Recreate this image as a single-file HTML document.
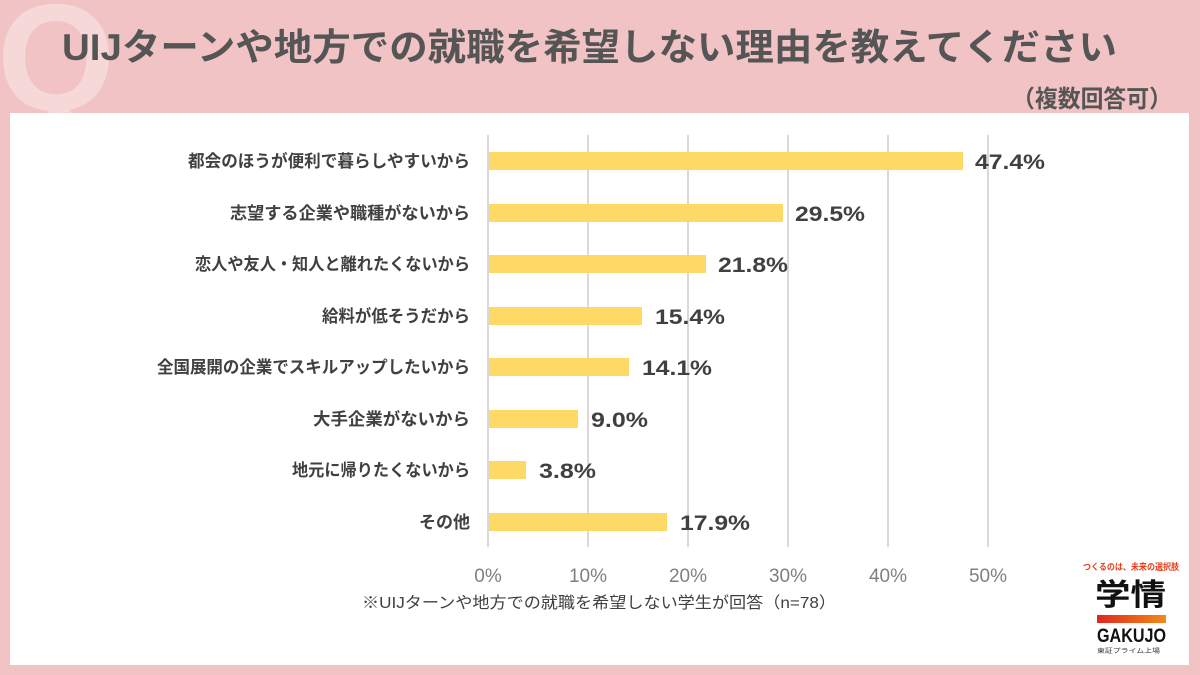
<!DOCTYPE html>
<html><head><meta charset="utf-8"><style>
html,body{margin:0;padding:0;width:1200px;height:675px;overflow:hidden;background:#f2c3c4;}
svg{display:block;}
text{font-family:"Liberation Sans","Noto Sans CJK JP",sans-serif;}
</style></head><body>
<svg width="1200" height="675" viewBox="0 0 1200 675" xmlns="http://www.w3.org/2000/svg">
<defs>
<linearGradient id="g" x1="0" x2="1" y1="0" y2="0"><stop offset="0" stop-color="#e0261f"/><stop offset="1" stop-color="#f28a18"/></linearGradient>
</defs>
<rect x="0" y="0" width="1200" height="675" fill="#f2c3c4"/>
<text x="56" y="110" font-size="152" font-weight="bold" fill="#f6d8d9" text-anchor="middle" style="font-family:'Liberation Sans',sans-serif">Q</text>
<text x="62" y="60" font-size="37" font-weight="bold" fill="#555555" textLength="1055" lengthAdjust="spacingAndGlyphs">UIJターンや地方での就職を希望しない理由を教えてください</text>
<text x="1012" y="107" font-size="24" font-weight="bold" fill="#555555" textLength="160" lengthAdjust="spacingAndGlyphs">（複数回答可）</text>
<rect x="10" y="113" width="1179" height="552" fill="#ffffff"/>
<g stroke="#d9d9d9" stroke-width="2">
<line x1="488" y1="135" x2="488" y2="547"/>
<line x1="588" y1="135" x2="588" y2="547"/>
<line x1="688" y1="135" x2="688" y2="547"/>
<line x1="788" y1="135" x2="788" y2="547"/>
<line x1="888" y1="135" x2="888" y2="547"/>
<line x1="988" y1="135" x2="988" y2="547"/>
</g>
<g fill="#ffd966">
<rect x="489" y="152" width="474" height="18"/>
<rect x="489" y="204" width="294" height="18"/>
<rect x="489" y="255" width="217" height="18"/>
<rect x="489" y="307" width="153" height="18"/>
<rect x="489" y="358" width="140" height="18"/>
<rect x="489" y="410" width="89" height="18"/>
<rect x="489" y="461" width="37" height="18"/>
<rect x="489" y="513" width="178" height="18"/>
</g>
<g font-size="17" font-weight="bold" fill="#404040" text-anchor="end">
<text x="470" y="167" textLength="282" lengthAdjust="spacingAndGlyphs">都会のほうが便利で暮らしやすいから</text>
<text x="470" y="219" textLength="240" lengthAdjust="spacingAndGlyphs">志望する企業や職種がないから</text>
<text x="470" y="270" textLength="275" lengthAdjust="spacingAndGlyphs">恋人や友人・知人と離れたくないから</text>
<text x="470" y="322" textLength="148" lengthAdjust="spacingAndGlyphs">給料が低そうだから</text>
<text x="470" y="373" textLength="313" lengthAdjust="spacingAndGlyphs">全国展開の企業でスキルアップしたいから</text>
<text x="470" y="425" textLength="157" lengthAdjust="spacingAndGlyphs">大手企業がないから</text>
<text x="470" y="476" textLength="178" lengthAdjust="spacingAndGlyphs">地元に帰りたくないから</text>
<text x="470" y="528">その他</text>
</g>
<g font-size="21" font-weight="bold" fill="#404040">
<text x="975" y="169" textLength="70" lengthAdjust="spacingAndGlyphs">47.4%</text>
<text x="795" y="221" textLength="70" lengthAdjust="spacingAndGlyphs">29.5%</text>
<text x="718" y="272" textLength="70" lengthAdjust="spacingAndGlyphs">21.8%</text>
<text x="655" y="324" textLength="70" lengthAdjust="spacingAndGlyphs">15.4%</text>
<text x="642" y="375" textLength="70" lengthAdjust="spacingAndGlyphs">14.1%</text>
<text x="591" y="427" textLength="57" lengthAdjust="spacingAndGlyphs">9.0%</text>
<text x="539" y="478" textLength="57" lengthAdjust="spacingAndGlyphs">3.8%</text>
<text x="680" y="530" textLength="70" lengthAdjust="spacingAndGlyphs">17.9%</text>
</g>
<g font-size="19" fill="#7f7f7f" text-anchor="middle">
<text x="488" y="582">0%</text>
<text x="588" y="582">10%</text>
<text x="688" y="582">20%</text>
<text x="788" y="582">30%</text>
<text x="888" y="582">40%</text>
<text x="988" y="582">50%</text>
</g>
<text x="362" y="608" font-size="16" fill="#404040" textLength="474" lengthAdjust="spacingAndGlyphs">※UIJターンや地方での就職を希望しない学生が回答（n=78）</text>
<text x="1083" y="570" font-size="9" font-weight="bold" fill="#e8401c" textLength="96" lengthAdjust="spacingAndGlyphs">つくるのは、未来の選択肢</text>
<text x="1095" y="605" font-size="30" font-weight="bold" fill="#111111" textLength="71" lengthAdjust="spacingAndGlyphs">学情</text>
<rect x="1097" y="615" width="69" height="8" fill="url(#g)"/>
<text x="1097" y="642" font-size="19" font-weight="bold" fill="#111111" textLength="69" lengthAdjust="spacingAndGlyphs">GAKUJO</text>
<text x="1097" y="653" font-size="6" fill="#333333" textLength="63" lengthAdjust="spacingAndGlyphs">東証プライム上場</text>
</svg>
</body></html>
